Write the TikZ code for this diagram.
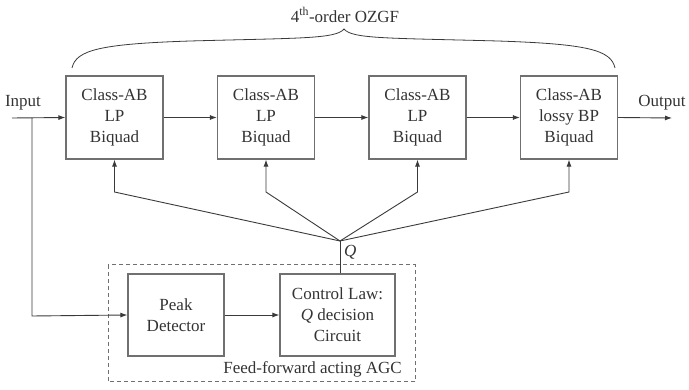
\documentclass[tikz,border=0pt]{standalone}
\usepackage{fontspec}
\setmainfont{Liberation Serif}
\usetikzlibrary{arrows.meta}
\definecolor{ink}{HTML}{333333}
\definecolor{edge}{HTML}{707070}
\definecolor{wire}{HTML}{3A3A3A}
\begin{document}
\begin{tikzpicture}[x=1pt,y=-1pt,
  every node/.style={text=ink,font=\fontsize{17}{21}\selectfont,inner sep=0pt},
  block/.style={draw=edge,line width=1.2pt,align=center,minimum width=97pt,minimum height=83pt},
  sig/.style={draw=wire,line width=0.9pt},
  arr/.style={sig,-{Latex[length=7pt,width=5pt]}},
  agcframe/.style={draw=edge,line width=1pt,dash pattern=on 4pt off 3pt}]
\useasboundingbox (0,0) rectangle (689,390);

% filter chain
\node[block] (b1) at (114.5,117.5) {Class-AB\\LP\\Biquad};
\node[block] (b2) at (266,117.5) {Class-AB\\LP\\Biquad};
\node[block] (b3) at (417.5,117.5) {Class-AB\\LP\\Biquad};
\node[block] (b4) at (569,117.5) {Class-AB\\lossy BP\\Biquad};

\node (in) at (23,103) {Input};
\node (out) at (662,103) {Output};
\coordinate (src) at (12,118);
\coordinate (split) at (32,118);
\coordinate (dst) at (672,118);

\draw[arr] (src) -- (b1.west);
\draw[arr] (b1.east) -- (b2.west);
\draw[arr] (b2.east) -- (b3.west);
\draw[arr] (b3.east) -- (b4.west);
\draw[arr] (b4.east) -- (dst);

% brace over the filter
\node (title) at (345,15) {4\textsuperscript{th}-order OZGF};
\draw[draw=wire,line width=0.8pt]
  (72,68) .. controls (76,50) and (100,44) .. (190,41)
  .. controls (300,38) and (336,39) .. (344,29)
  .. controls (352,39) and (388,38) .. (498,41)
  .. controls (588,44) and (611,50) .. (615,68);

% AGC section
\node[block,minimum width=96pt,minimum height=82pt] (peak) at (176,315) {Peak\\Detector};
\node[block,minimum width=115pt,minimum height=82pt] (ctrl) at (337.5,315) {Control Law:\\\textit{Q} decision\\Circuit};
\draw[agcframe] (108,265) rectangle (415,382);
\node[anchor=east] (agc) at (402,369) {Feed-forward acting AGC};

\draw[arr] (split) -- (32,316) -- (peak.west);
\draw[arr] (peak.east) -- (ctrl.west);

% Q distribution
\coordinate (q) at (340,241);
\node[anchor=west] (qlab) at (344,252) {\textit{Q}};
\draw[sig] (ctrl.north -| q) -- (q);
\coordinate (k1) at (114.5,192);
\coordinate (k2) at (266,192);
\coordinate (k3) at (417.5,192);
\coordinate (k4) at (569,192);
\draw[arr] (q) -- (k1) -- (b1.south);
\draw[arr] (q) -- (k2) -- (b2.south);
\draw[arr] (q) -- (k3) -- (b3.south);
\draw[arr] (q) -- (k4) -- (b4.south);
\end{tikzpicture}
\end{document}
